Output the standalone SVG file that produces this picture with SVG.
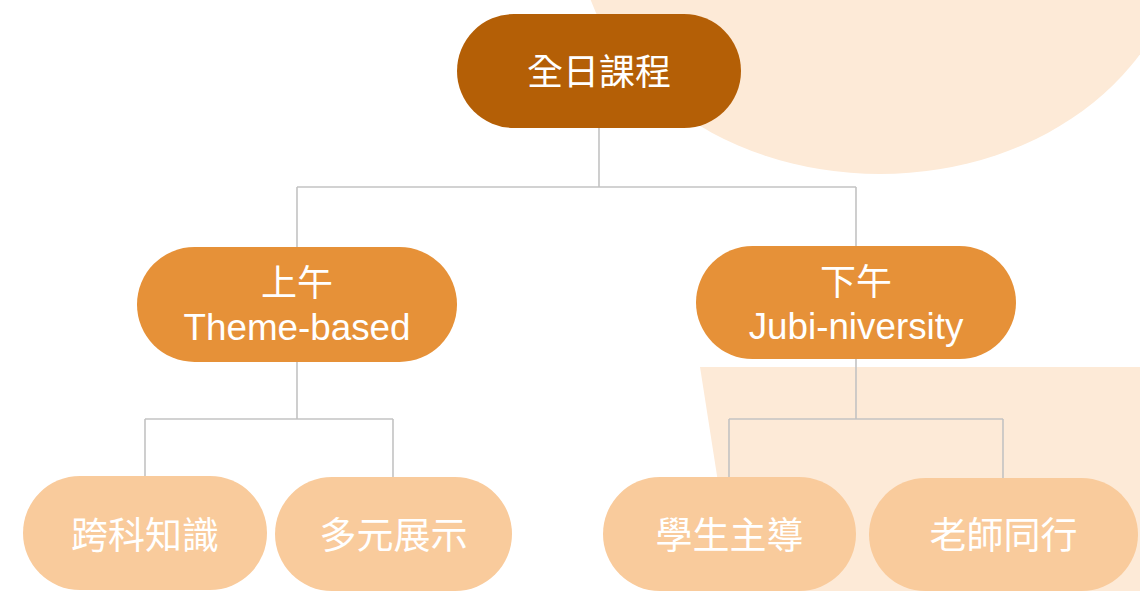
<svg xmlns="http://www.w3.org/2000/svg" width="1140" height="591" viewBox="0 0 1140 591">
<style>
.bg{fill:#FDEAD7}
.conn{fill:none;stroke:#C3C3C3;stroke-width:1.6}
.root{fill:#B45F06}
.mid{fill:#E69138}
.leaf{fill:#F9CB9C}
text{font-family:"Liberation Sans","Noto Sans CJK TC",sans-serif;fill:#FFFFFF;text-anchor:middle}
.t36{font-size:36px}
.t37{font-size:37px}
.lat{font-size:36.8px}
</style>
<rect width="1140" height="591" fill="#FFFFFF"/>
<g id="background">
<ellipse class="bg" cx="880" cy="-70" rx="302" ry="244"/>
<polygon class="bg" points="700,367 1140,367 1140,591 735,591"/>
</g>
<g id="connectors">
<path class="conn" d="M599,128 V187 M297,187 H856 M297,187 V247 M856,187 V246"/>
<path class="conn" d="M297,362 V419 M145,419 H393 M145,419 V476 M393,419 V477"/>
<path class="conn" d="M856,359 V419 M729,419 H1003 M729,419 V477 M1003,419 V478"/>
</g>
<g id="node-root">
<rect class="root" x="457" y="14" width="284" height="114" rx="57"/>
<text class="t36" x="599" y="85">全日課程</text>
</g>
<g id="node-am">
<rect class="mid" x="137" y="247" width="320" height="115" rx="57.5"/>
<text class="t36" x="297" y="296">上午</text>
<text class="lat" x="297" y="340">Theme-based</text>
</g>
<g id="node-pm">
<rect class="mid" x="696" y="246" width="320" height="113" rx="56.5"/>
<text class="t36" x="856" y="295">下午</text>
<text class="lat" x="856" y="339">Jubi-niversity</text>
</g>
<g id="node-leaf1">
<rect class="leaf" x="23" y="476" width="244" height="114" rx="57"/>
<text class="t37" x="145" y="549">跨科知識</text>
</g>
<g id="node-leaf2">
<rect class="leaf" x="275" y="477" width="237" height="114" rx="57"/>
<text class="t37" x="393.5" y="549">多元展示</text>
</g>
<g id="node-leaf3">
<rect class="leaf" x="603" y="477" width="253" height="114" rx="57"/>
<text class="t37" x="729.5" y="549">學生主導</text>
</g>
<g id="node-leaf4">
<rect class="leaf" x="869" y="478" width="269" height="113" rx="56.5"/>
<text class="t37" x="1003.5" y="549">老師同行</text>
</g>
</svg>
